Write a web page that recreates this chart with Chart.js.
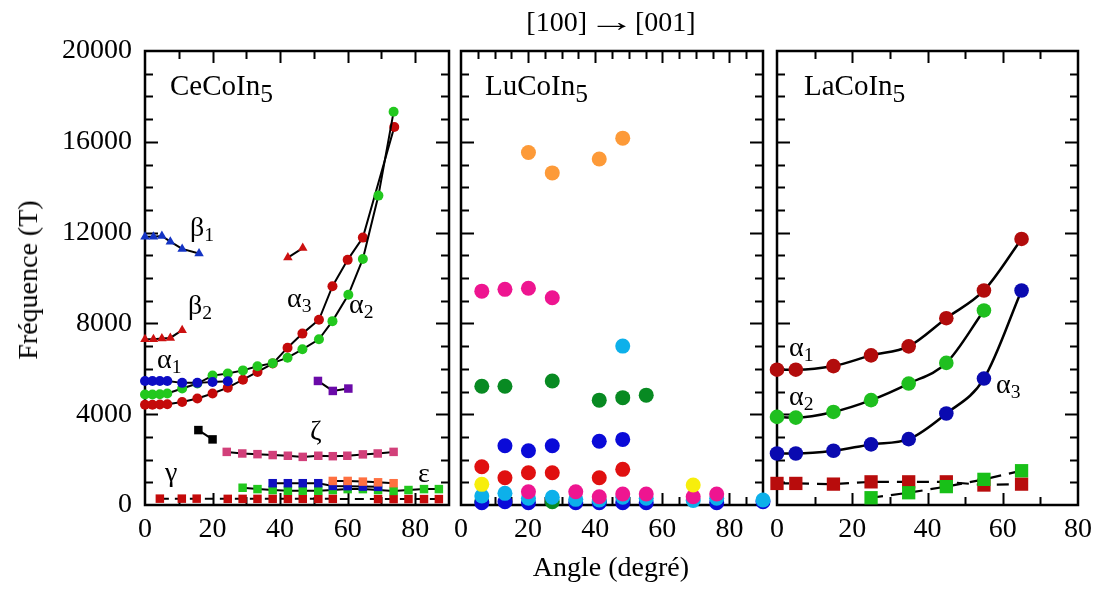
<!DOCTYPE html>
<html>
<head>
<meta charset="utf-8">
<script src="https://cdn.jsdelivr.net/npm/chart.js@4.4.1/dist/chart.umd.min.js"></script>
<style>
  html, body { margin: 0; padding: 0; background: #fff; }
  #wrap { position: relative; width: 1099px; height: 589px; overflow: hidden; }
  #wrap canvas { position: absolute; left: 0; top: 0; }
  .note { position: absolute; line-height: 1; white-space: nowrap; color: #000;
          font-family: 'Liberation Serif', 'DejaVu Serif', serif; pointer-events: none; }
  .note sub { font-size: 0.7em; vertical-align: baseline; position: relative; top: 0.22em; }
  .note.big sub { font-size: 0.88em; top: 0.27em; }
  .arrow { display: inline-block; transform: scaleX(1.7); margin: 0 10px; }
</style>
</head>
<body>
<div id="wrap">
  <canvas id="ce" width="1099" height="589"></canvas>
  <canvas id="lu" width="1099" height="589"></canvas>
  <canvas id="la" width="1099" height="589"></canvas>
</div>
<script>
// Fréquences de de Haas-van Alphen, rotation [100] -> [001], trois composés
const SERIF = "'Liberation Serif', 'DejaVu Serif', serif";

// --- graduations ---
const yTickVals = [0, 4000, 8000, 12000, 16000, 20000];
const xTickVals90 = [0, 20, 40, 60, 80];
const xTickVals80 = [0, 20, 40, 60, 80];

// --- CeCoIn5 ---
const ceA1Ang = [0, 2.2, 4.4, 6.6, 11, 15.5, 20, 24.5];
const ceA1Val = [5460, 5460, 5460, 5460, 5380, 5380, 5420, 5450];
const ceA2Ang = [0, 2.2, 4.4, 6.6, 11, 15.5, 20, 24.5, 29, 33.3, 37.8, 42.2, 46.6, 51.5, 55.5, 60.2, 64.5, 69.1, 73.6];
const ceA2Val = [4870, 4870, 4880, 4910, 5130, 5350, 5700, 5790, 5930, 6110, 6250, 6490, 6860, 7300, 8100, 9260, 10840, 13630, 17320];
const ceA3Ang = [0, 2.2, 4.4, 6.6, 11, 15.5, 20, 24.5, 29, 33.3, 37.8, 42.2, 46.6, 51.5, 55.5, 60, 64.5, 73.8];
const ceA3Val = [4420, 4420, 4430, 4440, 4540, 4690, 4910, 5170, 5520, 5860, 6230, 6930, 7550, 8160, 9640, 10800, 11780, 16650];
const ceB1Ang = [0, 2.5, 5, 7.5, 11, 16];
const ceB1Val = [11820, 11820, 11850, 11600, 11280, 11080];
const ceB2Ang = [0, 2.5, 5, 7.5, 11];
const ceB2Val = [7300, 7300, 7330, 7360, 7700];
const ceTriAng = [42.3, 46.7];
const ceTriVal = [10900, 11320];
const cePurAng = [51.2, 55.6, 60.2];
const cePurVal = [5465, 5025, 5130];
const ceBlkAng = [15.8, 20];
const ceBlkVal = [3300, 2890];
const ceZetaAng = [24.2, 28.8, 33.3, 37.8, 42.3, 46.7, 51.3, 55.6, 59.9, 64.5, 68.9, 73.6];
const ceZetaVal = [2340, 2270, 2240, 2200, 2170, 2120, 2170, 2150, 2170, 2230, 2270, 2340];
const ceOrAng = [55.6, 60, 64.5, 69, 73.6];
const ceOrVal = [1060, 1060, 1030, 1000, 960];
const ceBlSqAng = [37.8, 42.3, 46.7, 51.3, 55.6, 60, 64.5, 69];
const ceBlSqVal = [960, 960, 960, 960, 840, 830, 810, 800];
const ceEpsAng = [28.9, 33.3, 37.8, 42.3, 46.7, 51.3, 55.6, 60, 64.5, 69, 73.6, 78, 82.6, 87];
const ceEpsVal = [760, 700, 660, 630, 630, 630, 660, 700, 700, 660, 620, 660, 700, 700];
const ceGamAng = [4.4, 10.9, 15.3, 24.5, 28.9, 33.3, 37.8, 42.3, 46.7, 51.3, 55.6, 69, 73.6, 78, 82.6, 87];
const ceGamVal = [280, 280, 280, 270, 270, 270, 270, 270, 270, 270, 270, 260, 260, 260, 260, 260];

// --- LuCoIn5 ---
const luOrAng = [20.1, 27.2, 41.2, 48.2];
const luOrVal = [15530, 14630, 15240, 16160];
const luPinkAng = [6.2, 13.1, 20.1, 27.2, 20.1, 34.2, 41.2, 48.2, 55.2, 69.2, 76.2];
const luPinkVal = [9420, 9500, 9550, 9130, 585, 585, 365, 485, 485, 365, 485];
const luCyanAng = [48.2, 6.2, 13.1, 20.1, 27.2, 34.2, 41.2, 48.2, 55.2, 69.2, 76.2, 90];
const luCyanVal = [7000, 395, 514, 295, 340, 250, 220, 340, 295, 200, 295, 220];
const luGreenAng = [6.2, 13.1, 27.2, 41.2, 48.2, 55.2, 6.2, 27.2, 41.2];
const luGreenVal = [5230, 5230, 5460, 4620, 4730, 4840, 145, 145, 145];
const luBlueAng = [13.1, 20.1, 27.2, 41.2, 48.2, 6.2, 13.1, 20.1, 34.2, 41.2, 48.2, 55.2, 76.2, 90];
const luBlueVal = [2610, 2390, 2610, 2810, 2890, 100, 145, 100, 100, 100, 100, 100, 100, 145];
const luRedAng = [6.2, 13.1, 20.1, 27.2, 41.2, 48.2];
const luRedVal = [1685, 1200, 1420, 1420, 1200, 1570];
const luYelAng = [6.2, 69.2];
const luYelVal = [910, 880];

// --- LaCoIn5 ---
const laAng = [0, 5, 15, 25, 35, 45, 55, 65];
const laA1Val = [5960, 5960, 6120, 6590, 6990, 8230, 9450, 11720];
const laA2Ang = [0, 5, 15, 25, 35, 45, 55];
const laA2Val = [3880, 3850, 4100, 4620, 5350, 6260, 8570];
const laA3Val = [2270, 2270, 2390, 2670, 2900, 4030, 5570, 9450];
const laRedSqVal = [950, 950, 920, 1020, 1020, 1020, 880, 920];
const laGreenSqAng = [25, 35, 45, 55, 65];
const laGreenSqVal = [320, 540, 810, 1130, 1510];

function ds(ang, val, color, opt) {
  opt = opt || {};
  return {
    data: ang.map((a, i) => ({ x: a, y: val[i] })),
    showLine: !!opt.line,
    borderColor: "#000",
    borderWidth: opt.lw || 2,
    borderDash: opt.dash || [],
    tension: 0,
    cubicInterpolationMode: opt.smooth ? "monotone" : "default",
    pointStyle: opt.shape || "circle",
    pointRadius: opt.r || 5,
    pointBackgroundColor: color,
    pointBorderColor: color,
    pointBorderWidth: 0,
    clip: false,
  };
}

// cadre + graduations tournées vers l'intérieur
const frame = {
  id: "frame",
  beforeDatasetsDraw(chart, args, o) {
    const { ctx, chartArea: a, scales } = chart;
    const x = scales.x, y = scales.y;
    ctx.save();
    ctx.strokeStyle = "#000";
    ctx.lineWidth = 2;
    ctx.beginPath();
    for (let v = x.min + o.xStep; v < x.max - 1e-6; v += o.xStep) {
      const px = Math.round(x.getPixelForValue(v)) + 0.5;
      const len = v % o.xMajor === 0 ? 12 : 8;
      ctx.moveTo(px, a.bottom); ctx.lineTo(px, a.bottom - len);
      ctx.moveTo(px, a.top); ctx.lineTo(px, a.top + len);
    }
    for (let v = y.min + o.yStep; v < y.max - 1e-6; v += o.yStep) {
      const py = Math.round(y.getPixelForValue(v)) + 0.5;
      const len = v % o.yMajor === 0 ? 13 : 8;
      ctx.moveTo(a.left, py); ctx.lineTo(a.left + len, py);
      ctx.moveTo(a.right, py); ctx.lineTo(a.right - len, py);
    }
    ctx.stroke();
    ctx.lineWidth = 2.5;
    ctx.strokeRect(a.left, a.top, a.right - a.left, a.bottom - a.top);
    ctx.restore();
  },
};

function makePanel(id, datasets, pad, xMax, xTicks, xStep, showY) {
  new Chart(document.getElementById(id), {
    type: "scatter",
    data: { datasets: datasets },
    plugins: [frame],
    options: {
      responsive: false,
      animation: false,
      events: [],
      layout: { padding: pad },
      plugins: {
        legend: { display: false },
        tooltip: { enabled: false },
        frame: { xStep: xStep, xMajor: 20, yStep: 1000, yMajor: 4000 },
      },
      scales: {
        x: {
          type: "linear", min: 0, max: xMax,
          grid: { display: false }, border: { display: false },
          afterFit: (s) => { s.height = 84; },
          afterBuildTicks: (s) => { s.ticks = xTicks.map((v) => ({ value: v })); },
          ticks: {
            autoSkip: false, maxRotation: 0, padding: 0, color: "#000",
            font: { family: SERIF, size: 28 },
            callback: (v) => String(v),
          },
        },
        y: {
          type: "linear", min: 0, max: 20000, display: showY,
          grid: { display: false }, border: { display: false },
          afterFit: (s) => { s.width = showY ? 145 : 0; },
          afterBuildTicks: (s) => { s.ticks = yTickVals.map((v) => ({ value: v })); },
          ticks: {
            padding: 5, color: "#000",
            font: { family: SERIF, size: 28 },
            callback: (v) => String(v),
          },
        },
      },
    },
  });
}

makePanel("ce", [
  ds(ceA1Ang, ceA1Val, "#0c0cc4", { line: true }),
  ds(ceA2Ang, ceA2Val, "#22c81e", { line: true }),
  ds(ceA3Ang, ceA3Val, "#c40a0a", { line: true }),
  ds(ceB1Ang, ceB1Val, "#1434c4", { line: true, shape: "triangle", r: 5.5 }),
  ds(ceB2Ang, ceB2Val, "#cc1010", { line: true, shape: "triangle", r: 5.5 }),
  ds(ceTriAng, ceTriVal, "#cc1010", { line: true, shape: "triangle", r: 5.5 }),
  ds(cePurAng, cePurVal, "#6a0aa8", { line: true, shape: "rect", r: 6 }),
  ds(ceBlkAng, ceBlkVal, "#000000", { line: true, shape: "rect", r: 6 }),
  ds(ceZetaAng, ceZetaVal, "#d2407a", { line: true, shape: "rect", r: 6 }),
  ds(ceOrAng, ceOrVal, "#ff7040", { line: true, shape: "rect", r: 6 }),
  ds(ceBlSqAng, ceBlSqVal, "#1010c0", { line: true, shape: "rect", r: 6 }),
  ds(ceEpsAng, ceEpsVal, "#22c81e", { line: true, shape: "rect", r: 6 }),
  ds(ceGamAng, ceGamVal, "#c40a0a", { line: true, shape: "rect", r: 6, dash: [9, 6] }),
], { left: 0, top: 51, right: 650, bottom: 0 }, 90, xTickVals90, 10, true);

makePanel("lu", [
  ds(luYelAng, luYelVal, "#f7ee0c", { r: 7.5 }),
  ds(luRedAng, luRedVal, "#e01010", { r: 7.5 }),
  ds(luPinkAng, luPinkVal, "#ee1590", { r: 7.5 }),
  ds(luOrAng, luOrVal, "#fd9a38", { r: 7.5 }),
  ds(luCyanAng, luCyanVal, "#0db0ea", { r: 7.5 }),
  ds(luBlueAng, luBlueVal, "#0a0ad8", { r: 7.5 }),
  ds(luGreenAng, luGreenVal, "#088a22", { r: 7.5 }),
], { left: 461, top: 51, right: 336, bottom: 0 }, 90, xTickVals90, 5, false);

makePanel("la", [
  ds(laGreenSqAng, laGreenSqVal, "#18c018", { line: true, shape: "rect", r: 9.4, dash: [12, 8], lw: 2.2 }),
  ds(laAng, laRedSqVal, "#b80c0c", { line: true, shape: "rect", r: 9.4, dash: [12, 8], lw: 2.2 }),
  ds(laAng, laA1Val, "#b20c0c", { line: true, smooth: true, r: 7.3, lw: 2.5 }),
  ds(laA2Ang, laA2Val, "#1fbf1f", { line: true, smooth: true, r: 7.3, lw: 2.5 }),
  ds(laAng, laA3Val, "#0a0ab0", { line: true, smooth: true, r: 7.3, lw: 2.5 }),
], { left: 777, top: 51, right: 21, bottom: 0 }, 80, xTickVals80, 10, false);

// --- textes ---
const wrap = document.getElementById("wrap");
function note(html, left, baseline, size, cls, center) {
  const d = document.createElement("div");
  d.className = "note" + (cls ? " " + cls : "");
  d.innerHTML = html;
  d.style.fontSize = size + "px";
  d.style.left = left + "px";
  d.style.top = (baseline - size * 0.84) + "px";
  if (center) d.style.transform = "translateX(-50%)";
  wrap.appendChild(d);
  return d;
}
note('[100]<span class="arrow">&rarr;</span>[001]', 611, 32, 28, "", true);
note("Angle (degré)", 611, 577, 28, "", true);
const yl = note("Fréquence (T)", 28, 280, 28, "", false);
yl.style.top = "280px";
yl.style.transform = "translate(-50%, -50%) rotate(-90deg)";

note("CeCoIn<sub>5</sub>", 170, 95, 29, "big");
note("LuCoIn<sub>5</sub>", 485, 95, 29, "big");
note("LaCoIn<sub>5</sub>", 804, 95, 29, "big");
note("β<sub>1</sub>", 190, 237, 28);
note("β<sub>2</sub>", 188, 315, 28);
note("α<sub>1</sub>", 157, 369, 28);
note("α<sub>3</sub>", 287, 308, 28);
note("α<sub>2</sub>", 349, 314, 28);
note("ζ", 310, 441, 28);
note("γ", 165, 482, 28);
note("ε", 418, 483, 28);
note("α<sub>1</sub>", 789, 357, 28);
note("α<sub>2</sub>", 789, 406, 28);
note("α<sub>3</sub>", 996, 394, 28);
</script>
</body>
</html>
